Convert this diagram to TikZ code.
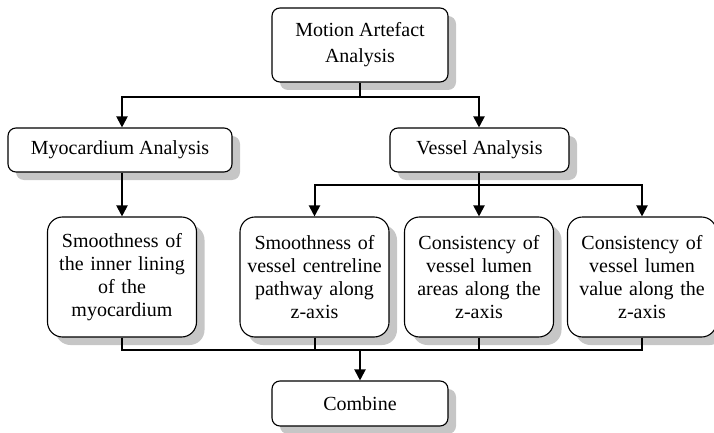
\documentclass[tikz,border=0pt]{standalone}
\usepackage{fontspec}
\setmainfont{Liberation Serif}
\usetikzlibrary{arrows.meta,positioning,shadows}

\tikzset{
  box/.style={draw,line width=1.1pt,fill=white,align=center,inner sep=0pt,
    font=\fontsize{20pt}{23pt}\selectfont,
    drop shadow={shadow xshift=8pt,shadow yshift=-8pt,fill=gray!45,opacity=1}},
  headbox/.style={box,rounded corners=8pt,minimum height=44pt},
  taskbox/.style={box,rounded corners=15pt,minimum width=149pt,minimum height=120pt,text width=146pt},
  link/.style={line width=2pt},
  arrow/.style={link,-{Triangle[length=11pt,width=11pt]}}
}

\begin{document}
\begin{tikzpicture}[x=1pt,y=-1pt]
  \useasboundingbox (0,0) rectangle (714,433);
  \node[headbox,minimum width=176pt,minimum height=74pt,
        font=\fontsize{20pt}{26pt}\selectfont]   (motion)  at (360,45)  {Motion Artefact\\Analysis};
  \node[headbox,minimum width=224pt]  (myo)     at (120,150)   {Myocardium Analysis};
  \node[headbox,minimum width=179pt]  (vessel)  at (479.5,150) {Vessel Analysis};
  \node[taskbox]                      (lining)  at (122,277)   {Smoothness of\\the inner lining\\of the\\myocardium};
  \node[taskbox]                      (centre)  at (314.5,277) {Smoothness of\\vessel centreline\\pathway along\\z-axis};
  \node[taskbox]                      (areas)   at (479,277)   {Consistency of\\vessel lumen\\areas along the\\z-axis};
  \node[taskbox]                      (value)   at (642,277)   {Consistency of\\vessel lumen\\value along the\\z-axis};
  \node[headbox,minimum width=176pt,minimum height=45pt] (combine) at (360,403.5) {Combine};

  \coordinate (split1) at (360,97);
  \coordinate (split2) at (479,185);
  \coordinate (join)   at (360,350);

  \draw[link]  (motion.south) -- (split1);
  \draw[arrow] (split1) -| (lining.north |- myo.north);
  \draw[arrow] (split1) -| (areas.north |- vessel.north);
  \draw[arrow] (lining.north |- myo.south) -- (lining.north);
  \draw[link]  (areas.north |- vessel.south) -- (split2);
  \draw[arrow] (split2) -| (centre.north);
  \draw[arrow] (split2) -- (areas.north);
  \draw[arrow] (split2) -| (value.north);
  \draw[link]  (lining.south) |- (join);
  \draw[link]  (centre.south) |- (join);
  \draw[link]  (areas.south) |- (join);
  \draw[link]  (value.south) |- (join);
  \draw[arrow] (join) -- (combine.north);
\end{tikzpicture}
\end{document}
